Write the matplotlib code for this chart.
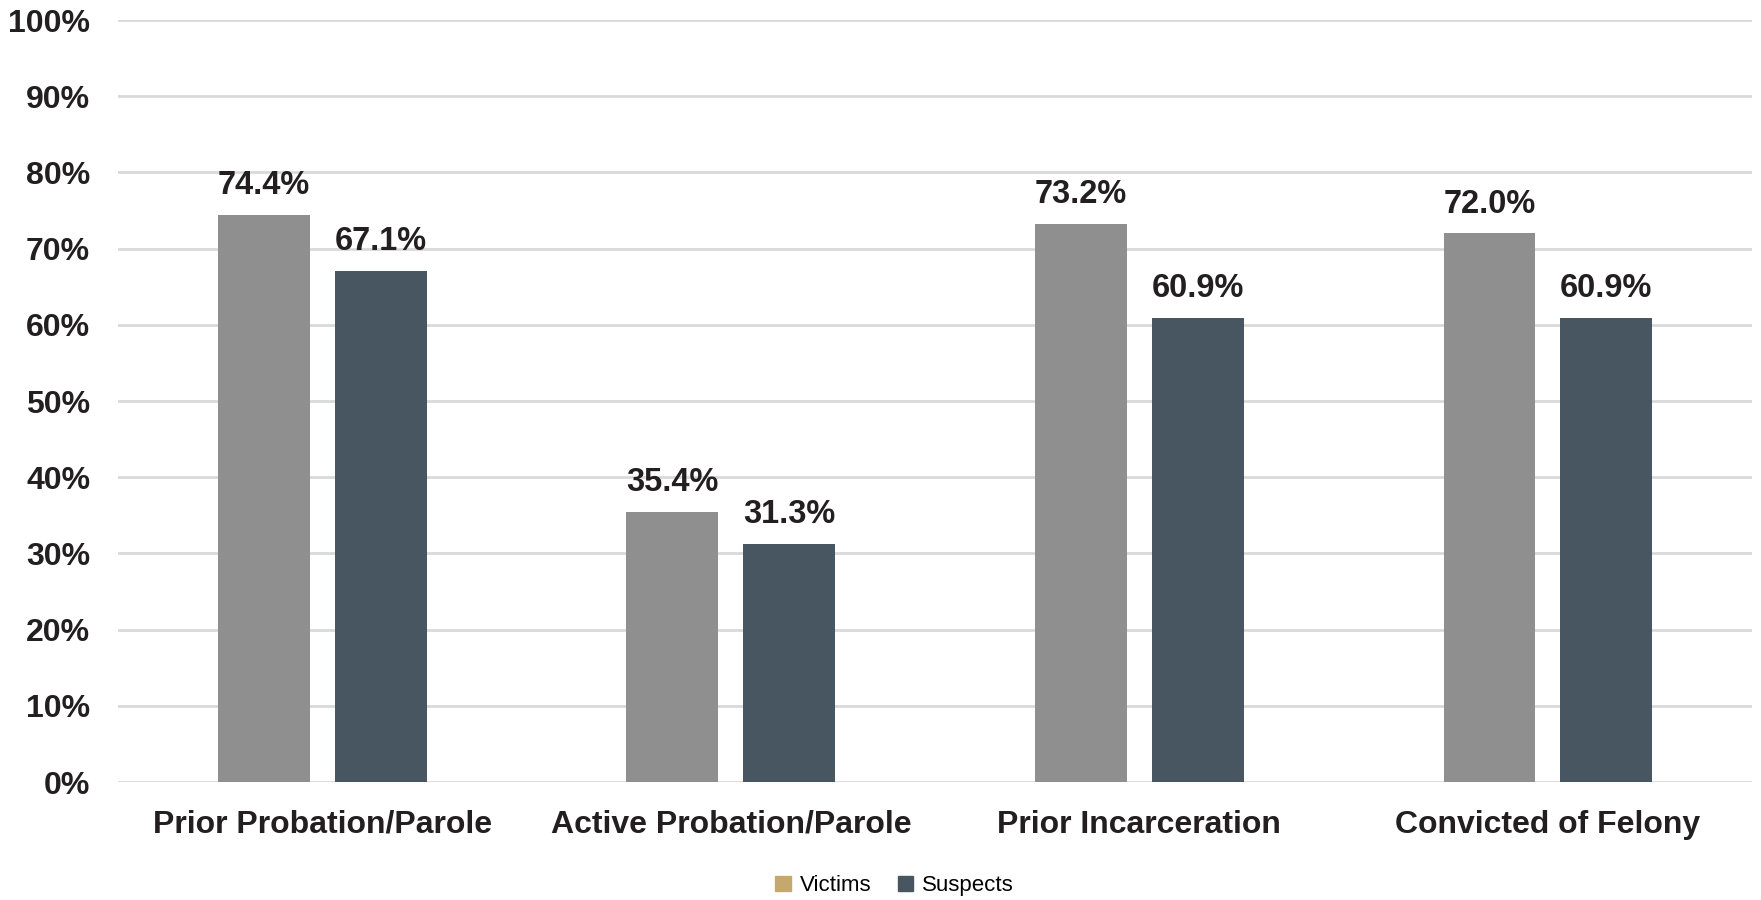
import matplotlib.pyplot as plt
import numpy as np
from matplotlib.patches import Patch

categories = ["Prior Probation/Parole", "Active Probation/Parole",
              "Prior Incarceration", "Convicted of Felony"]
victims = [74.4, 35.4, 73.2, 72.0]
suspects = [67.1, 31.3, 60.9, 60.9]
yticks = list(range(0, 101, 10))

plt.rcParams['font.family'] = ['Liberation Sans', 'DejaVu Sans']

fig = plt.figure(figsize=(17.61, 9.0), dpi=100)
ax = fig.add_axes([0.067, 0.131, 0.928, 0.8467])

x = np.arange(len(categories))
w = 0.225
off = 0.143
b1 = ax.bar(x - off, victims, w, color="#8f8f8f", zorder=3)
b2 = ax.bar(x + off, suspects, w, color="#485662", zorder=3)

for bars, vals in ((b1, victims), (b2, suspects)):
    for rect, v in zip(bars, vals):
        ax.annotate(f"{v:.1f}%", (rect.get_x() + rect.get_width() / 2, v),
                    xytext=(0, 10), textcoords="offset points",
                    ha="center", va="bottom", fontsize=23.5,
                    fontweight="bold", color="#231f20")

ax.set_xlim(-0.5, len(categories) - 0.5)
ax.set_ylim(0, 100)
ax.set_yticks(yticks)
ax.set_yticklabels([f"{t}%" for t in yticks], fontsize=23,
                   fontweight="bold", color="#231f20")
ax.set_xticks(x)
ax.set_xticklabels(categories, fontsize=23, fontweight="bold", color="#231f20")
ax.tick_params(axis="y", length=0, pad=20)
ax.tick_params(axis="x", length=0, pad=20)
ax.grid(axis="y", color="#d9d9d9", linewidth=2, zorder=0)
for s in ax.spines.values():
    s.set_visible(False)

# legend patch for victims uses the tan colour, as in the original
handles = [Patch(color="#c4a86e", label="Victims"),
           Patch(color="#485662", label="Suspects")]
fig.legend(handles=handles, loc="center", bbox_to_anchor=(0.508, 0.016),
           ncol=2, frameon=False, fontsize=16, handlelength=0.7,
           handleheight=0.7, handletextpad=0.4, columnspacing=1.2)

fig.savefig("out.png", dpi=100)
